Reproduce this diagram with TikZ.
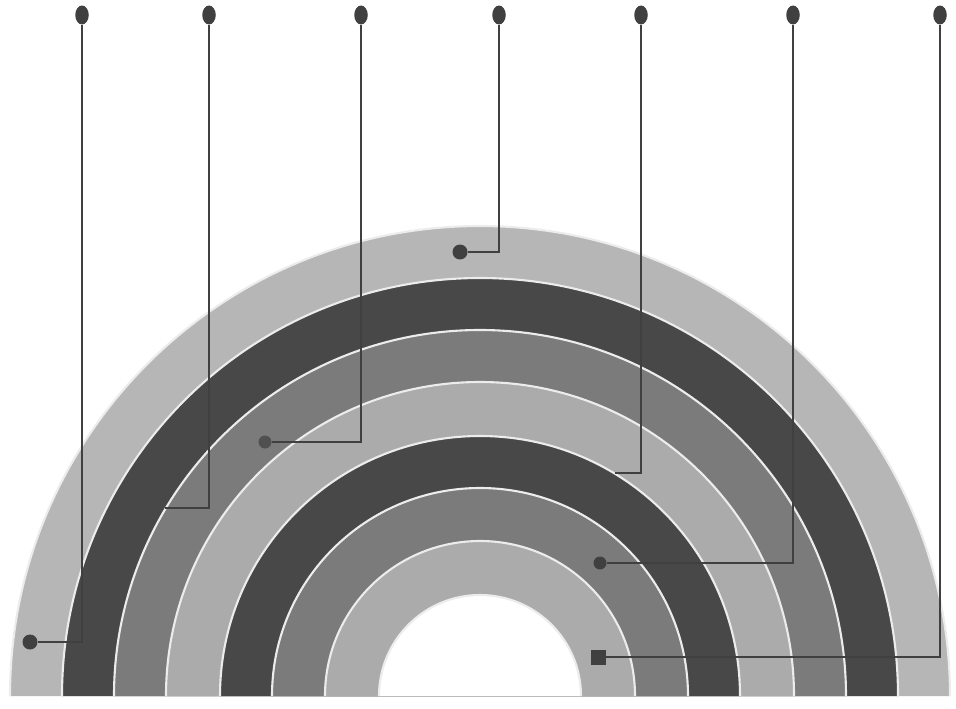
\documentclass[tikz,border=0pt]{standalone}
\usepackage{tikz}
\usetikzlibrary{shapes.geometric}

\definecolor{bandpale}{HTML}{B6B6B6}
\definecolor{banddark}{HTML}{484848}
\definecolor{bandmid}{HTML}{7B7B7B}
\definecolor{bandlight}{HTML}{ABABAB}
\definecolor{pincol}{HTML}{404040}

\begin{document}
\begin{tikzpicture}[x=0.02cm,y=0.02cm,
  pinhead/.style={ellipse,fill=pincol,inner sep=0pt,minimum width=0.27cm,minimum height=0.38cm},
  pinfoot/.style={circle,fill=pincol,inner sep=0pt,minimum size=0.3cm},
  pinline/.style={pincol,line width=1.1pt},
  seam/.style={white!85!gray,line width=1.2pt}]
  \useasboundingbox (0,0) rectangle (956,708);
  % rainbow bands, outside in
  \foreach \r/\c in {470/bandpale,418/banddark,366/bandmid,314/bandlight,260/banddark,208/bandmid,155/bandlight,101/white}
  {
    \fill[\c] ({480-\r},12) arc[start angle=180,end angle=0,radius=\r] -- cycle;
    \draw[seam] ({480-\r},12) arc[start angle=180,end angle=0,radius=\r];
  }
  % pin heads along the top
  \foreach \n/\x in {1/82,2/209,3/361,4/499,5/641,6/793,7/940}
    \node[pinhead] (t\n) at (\x,693) {};
  % pin feet on the bands
  \node[pinfoot] (e1) at (30,66) {};
  \coordinate (e2) at (165,200);
  \node[pinfoot,fill=pincol!75!gray,minimum size=0.26cm] (e3) at (265,266) {};
  \node[pinfoot] (e4) at (460,456) {};
  \coordinate (e5) at (615,235);
  \node[pinfoot,minimum size=0.26cm] (e6) at (600,145) {};
  \node[pinfoot,rectangle,minimum size=0.3cm] (e7) at (598,51) {};
  \foreach \n in {1,...,7}
    \draw[pinline] (t\n) |- (e\n);
\end{tikzpicture}
\end{document}
